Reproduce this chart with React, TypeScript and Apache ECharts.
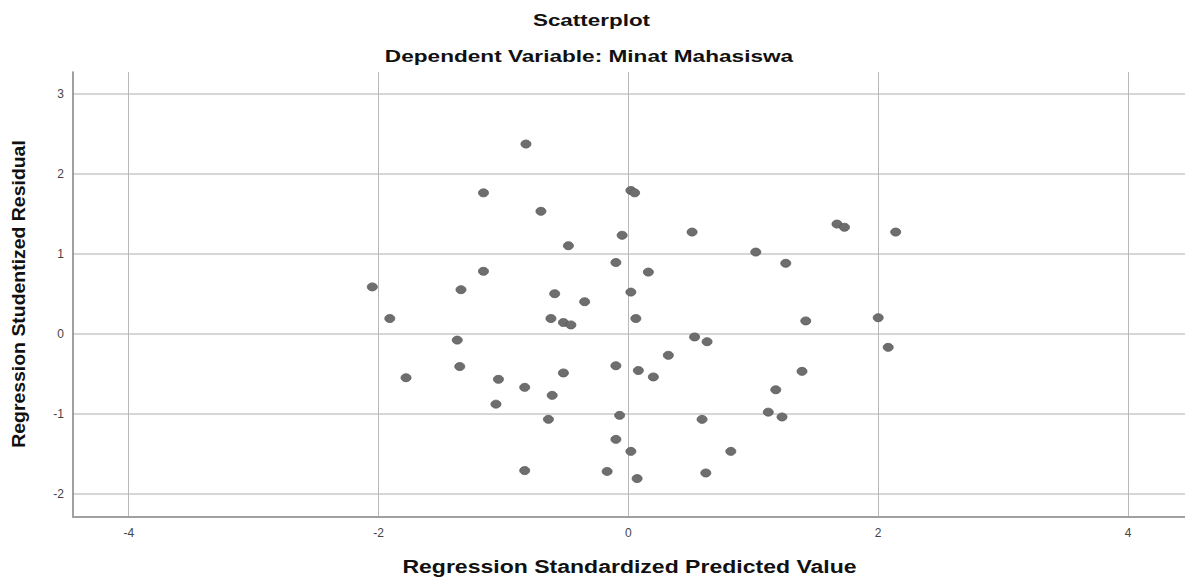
import React, { useEffect, useRef } from "react";
import * as echarts from "echarts";

const titleText = "Scatterplot";
const subtitleText = "Dependent Variable: Minat Mahasiswa";
const xAxisName = "Regression Standardized Predicted Value";
const yAxisName = "Regression Studentized Residual";

const xTicks = [-4, -2, 0, 2, 4];
const yTicks = [3, 2, 1, 0, -1, -2];

const predicted = [
  -2.05, -1.91, -1.78, -1.34, -1.37, -1.35, -1.16, -1.16, -1.04, -1.06,
  -0.82, -0.83, -0.83, -0.7, -0.59, -0.62, -0.61, -0.64, -0.48, -0.52,
  -0.46, -0.52, -0.35, -0.1, -0.05, -0.1, -0.07, -0.1, -0.17, 0.02,
  0.05, 0.02, 0.06, 0.16, 0.08, 0.02, 0.07, 0.2, 0.32, 0.51,
  0.53, 0.63, 0.59, 0.62, 0.82, 1.02, 1.26, 1.12, 1.23, 1.18,
  1.39, 1.42, 1.67, 1.73, 2.14, 2.0, 2.08,
];
const residual = [
  0.585, 0.19, -0.55, 0.55, -0.08, -0.41, 1.76, 0.78, -0.57, -0.88,
  2.37, -0.67, -1.71, 1.53, 0.5, 0.19, -0.77, -1.07, 1.1, 0.14,
  0.11, -0.49, 0.4, 0.89, 1.23, -0.4, -1.02, -1.32, -1.72, 1.79,
  1.76, 0.52, 0.19, 0.77, -0.46, -1.47, -1.81, -0.54, -0.27, 1.27,
  -0.04, -0.1, -1.07, -1.74, -1.47, 1.02, 0.88, -0.98, -1.04, -0.7,
  -0.47, 0.16, 1.37, 1.33, 1.27, 0.2, -0.17,
];

export default function App() {
  const ref = useRef<HTMLDivElement>(null);
  useEffect(() => {
    if (!ref.current) return;
    const chart = echarts.init(ref.current, null, { renderer: "svg" });
    const font = "'Liberation Sans', Arial, sans-serif";
    chart.setOption({
      animation: false,
      backgroundColor: "#ffffff",
      grid: { left: 73, right: 0, top: 72, bottom: 61, containLabel: false },
      xAxis: {
        type: "value",
        min: -4.446,
        max: 4.456,
        axisLine: { show: true, onZero: false, lineStyle: { color: "#a0a0a0", width: 2 } },
        axisTick: { show: false, customValues: xTicks },
        axisLabel: {
          customValues: xTicks,
          fontSize: 12,
          fontFamily: font,
          color: "#444",
          margin: 10,
        },
        splitLine: { show: true, lineStyle: { color: "#b8b8b8", width: 1 } },
      },
      yAxis: {
        type: "value",
        min: -2.29,
        max: 3.27,
        axisLine: { show: true, onZero: false, lineStyle: { color: "#808080", width: 1.5 } },
        axisTick: { show: false, customValues: yTicks },
        axisLabel: {
          customValues: yTicks,
          fontSize: 12,
          fontFamily: font,
          color: "#444",
          margin: 9,
        },
        splitLine: { show: true, lineStyle: { color: "#d6d6d6", width: 2 } },
      },
      series: [
        {
          type: "scatter",
          data: predicted.map((x, i) => [x, residual[i]]),
          symbol: "circle",
          symbolSize: [10, 8],
          itemStyle: { color: "#6e6e6e", borderColor: "#5a5a5a", borderWidth: 0.8, opacity: 1 },
        },
      ],
      graphic: [
        {
          type: "text",
          x: 591.5,
          y: 20.5,
          scaleX: 1.32,
          style: {
            text: titleText,
            font: `bold 17px ${font}`,
            fill: "#111",
            textAlign: "center",
            textVerticalAlign: "middle",
          },
        },
        {
          type: "text",
          x: 589,
          y: 56.5,
          scaleX: 1.33,
          style: {
            text: subtitleText,
            font: `bold 17px ${font}`,
            fill: "#111",
            textAlign: "center",
            textVerticalAlign: "middle",
          },
        },
        {
          type: "text",
          x: 629.5,
          y: 566.5,
          scaleX: 1.28,
          style: {
            text: xAxisName,
            font: `bold 18px ${font}`,
            fill: "#111",
            textAlign: "center",
            textVerticalAlign: "middle",
          },
        },
        {
          type: "text",
          x: 19,
          y: 294,
          rotation: Math.PI / 2,
          scaleX: 1.08,
          style: {
            text: yAxisName,
            font: `bold 18px ${font}`,
            fill: "#111",
            textAlign: "center",
            textVerticalAlign: "middle",
          },
        },
      ],
    });
    return () => chart.dispose();
  }, []);
  return (
    <div
      ref={ref}
      style={{ position: "absolute", left: 0, top: 0, width: 1185, height: 578 }}
    />
  );
}
